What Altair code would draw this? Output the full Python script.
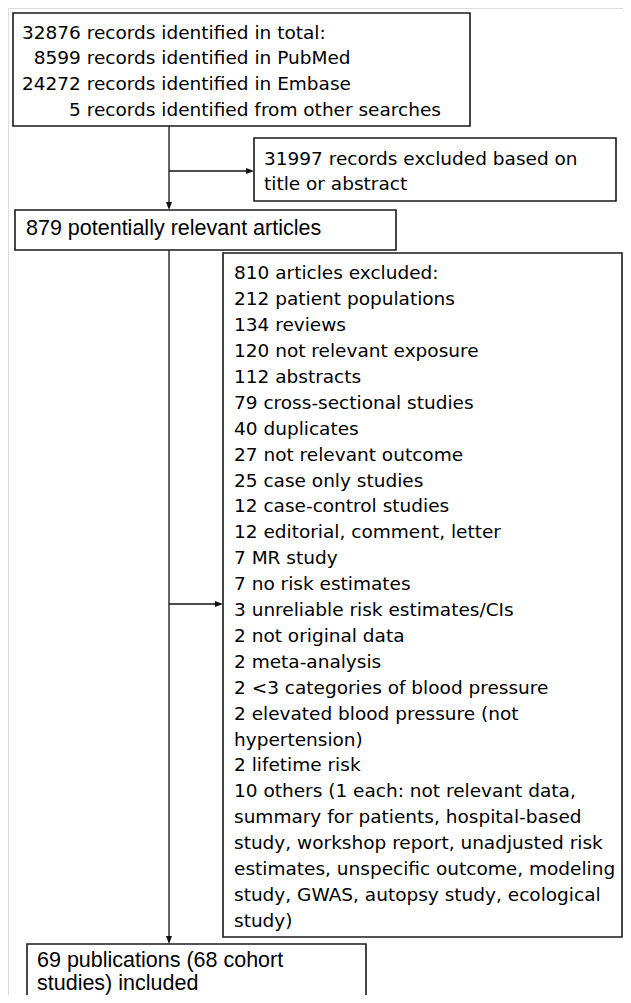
import re
import altair as alt
import pandas as pd

# ---------------- content (text of the flow diagram) ----------------
box1_lines = [
    "32876 records identified in total:",
    "8599 records identified in PubMed",
    "24272 records identified in Embase",
    "5 records identified from other searches",
]
box2_lines = ["31997 records excluded based on", "title or abstract"]
box3_lines = ["879 potentially relevant articles"]
box4_lines = [
    "810 articles excluded:",
    "212 patient populations",
    "134 reviews",
    "120 not relevant exposure",
    "112 abstracts",
    "79 cross-sectional studies",
    "40 duplicates",
    "27 not relevant outcome",
    "25 case only studies",
    "12 case-control studies",
    "12 editorial, comment, letter",
    "7 MR study",
    "7 no risk estimates",
    "3 unreliable risk estimates/CIs",
    "2 not original data",
    "2 meta-analysis",
    "2 <3 categories of blood pressure",
    "2 elevated blood pressure (not",
    "hypertension)",
    "2 lifetime risk",
    "10 others (1 each: not relevant data,",
    "summary for patients, hospital-based",
    "study, workshop report, unadjusted risk",
    "estimates, unspecific outcome, modeling",
    "study, GWAS, autopsy study, ecological",
    "study)",
]
box5_lines = ["69 publications (68 cohort", "studies) included"]

# ---------------- layout (page pixel coordinates) ----------------
W, H = 615, 987          # plot area; page margin is 8px
OX, OY = 8, 8

TAHOMA = "DejaVu Sans"
ARIAL = "Liberation Sans"
T_SIZE = 18.5
A_SIZE = 21.5
DIGIT_W = 0.636 * T_SIZE   # DejaVu Sans tabular digit advance

boxes = [
    # x1, x2, y1, y2
    dict(x1=13, x2=470, y1=13, y2=126),
    dict(x1=254, x2=616, y1=138, y2=201),
    dict(x1=15, x2=396, y1=210, y2=250),
    dict(x1=223, x2=622, y1=253, y2=937),
    dict(x1=27, x2=366, y1=944, y2=1010),
]

text_blocks = [
    dict(lines=box1_lines, x=22, y0=32.5, dy=25.8, font=TAHOMA, align_num=True),
    dict(lines=box2_lines, x=264, y0=158.5, dy=25.8, font=TAHOMA, align_num=False),
    dict(lines=box3_lines, x=26, y0=229, dy=24, font=ARIAL, align_num=False),
    dict(lines=box4_lines, x=234, y0=273.3, dy=25.9, font=TAHOMA, align_num=False),
    dict(lines=box5_lines, x=37, y0=961, dy=22.5, font=ARIAL, align_num=False),
]

VX = 169  # vertical spine
connectors = [
    dict(x1=VX, y1=126, x2=VX, y2=205),
    dict(x1=VX, y1=171, x2=249, y2=171),
    dict(x1=VX, y1=250, x2=VX, y2=939),
    dict(x1=VX, y1=604, x2=218, y2=604),
]
heads_down = [dict(x=VX, y=206), dict(x=VX, y=940)]
heads_right = [dict(x=250, y=171), dict(x=219, y=604)]

# ---------------- build tables ----------------
box_df = pd.DataFrame(boxes)
line_df = pd.DataFrame(connectors)
hd_df = pd.DataFrame(heads_down)
hr_df = pd.DataFrame(heads_right)

rows = []
for b in text_blocks:
    maxd = max(len(re.match(r"\d*", t).group(0)) for t in b["lines"])
    for i, t in enumerate(b["lines"]):
        x = b["x"]
        if b["align_num"]:
            x += (maxd - len(re.match(r"\d*", t).group(0))) * DIGIT_W
        rows.append(dict(x=x, y=b["y0"] + i * b["dy"], text=t, font=b["font"]))
text_df = pd.DataFrame(rows)

xs = alt.Scale(domain=[OX, OX + W], range=[0, W], nice=False, zero=False)
ys = alt.Scale(domain=[OY, OY + H], range=[0, H], nice=False, zero=False)

def X(f):
    return alt.X(f, type="quantitative", scale=xs, axis=None)

def Y(f):
    return alt.Y(f, type="quantitative", scale=ys, axis=None)

rects = alt.Chart(box_df).mark_rect(
    fill="white", stroke="#1a1a1a", strokeWidth=1.6, clip=True
).encode(x=X("x1"), x2="x2", y=Y("y1"), y2="y2")

rules = alt.Chart(line_df).mark_rule(
    color="#111111", strokeWidth=1.3
).encode(x=X("x1"), x2="x2", y=Y("y1"), y2="y2")

down = alt.Chart(hd_df).mark_point(
    shape="M-0.75,-1L0.75,-1L0,1Z", filled=True, color="#111111", opacity=1, size=64
).encode(x=X("x"), y=Y("y"))

right = alt.Chart(hr_df).mark_point(
    shape="M-1,-0.75L1,0L-1,0.75Z", filled=True, color="#111111", opacity=1, size=64
).encode(x=X("x"), y=Y("y"))

tahoma_df = text_df[text_df.font == TAHOMA]
arial_df = text_df[text_df.font == ARIAL]

txt1 = alt.Chart(tahoma_df).mark_text(
    align="left", baseline="middle", font=TAHOMA, fontSize=T_SIZE, color="black"
).encode(x=X("x"), y=Y("y"), text="text:N")

txt2 = alt.Chart(arial_df).mark_text(
    align="left", baseline="middle", font=ARIAL, fontSize=A_SIZE, color="black"
).encode(x=X("x"), y=Y("y"), text="text:N")

chart = alt.layer(rules, rects, down, right, txt1, txt2).properties(
    width=W, height=H, autosize=alt.AutoSizeParams(type="none"), padding=0
).configure_view(stroke=None).configure(background="white")

chart.save("out.html", embed_options={"renderer": "svg", "actions": False})
